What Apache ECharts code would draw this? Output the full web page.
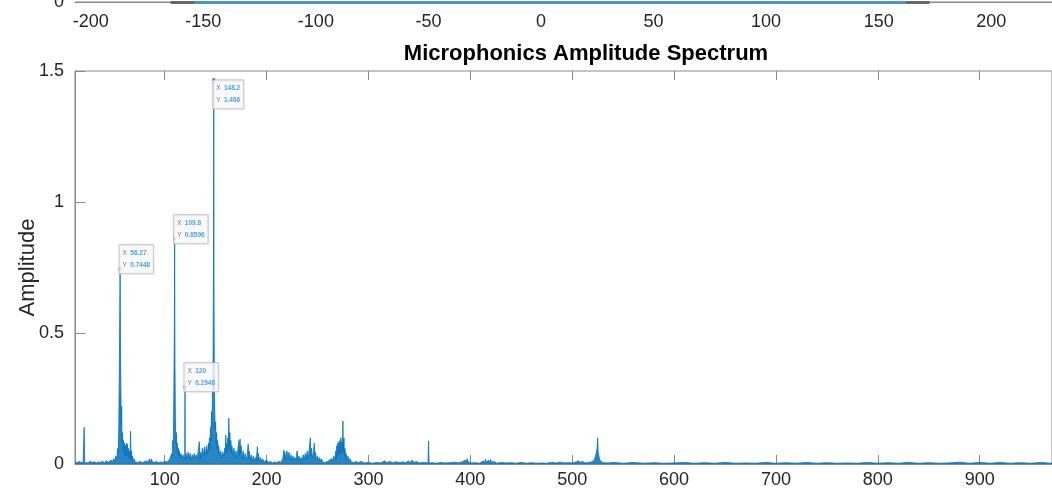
<!DOCTYPE html>
<html>
<head>
<meta charset="utf-8">
<script src="https://cdn.jsdelivr.net/npm/echarts@6/dist/echarts.min.js"></script>
<style>
  html, body { margin: 0; padding: 0; background: #fff; }
  #chart { width: 1052px; height: 496px; }
</style>
</head>
<body>
<div id="chart"></div>
<script>
// spectrum (frequency, amplitude)
const freqs = [
  12, 14, 16, 18, 20, 21, 21.5, 23, 25, 27, 29, 31, 33, 35, 37, 39, 41, 43, 45, 47, 49, 50, 51, 52, 53, 54, 54.5,
  55, 55.5, 56, 56.27, 56.6, 57, 57.4, 57.8, 58.2, 58.6, 59, 59.5, 60, 60.5, 61, 61.5, 62, 62.5, 63, 63.5, 64, 64.5,
  65, 65.5, 66, 66.5, 67, 67.5, 68, 68.5, 69, 70, 71, 72, 74, 76, 78, 80, 82, 84, 85, 86, 87, 88, 90, 92, 94, 96, 98,
  100, 102, 104, 105, 106, 107, 107.5, 108, 108.5, 109, 109.5, 109.8, 110.1, 110.5, 111, 111.5, 112, 112.5, 113,
  113.5, 114, 114.5, 115, 116, 117, 118, 119, 119.8, 120, 120.2, 121, 122, 123, 124, 125, 126, 127, 128, 129, 130,
  131, 132, 133, 134, 134.5, 135, 136, 137, 138, 139, 140, 141, 142, 143, 143.5, 144, 144.5, 145, 145.5, 146, 146.5,
  147, 147.5, 148, 148.2, 148.5, 148.8, 149.2, 149.6, 150, 150.5, 151, 151.5, 152, 152.5, 153, 154, 155, 156, 157,
  158, 159, 159.5, 160, 160.5, 161, 161.5, 162, 162.5, 163, 163.5, 164, 164.5, 165, 165.5, 166, 167, 168, 169, 170,
  171, 172, 173, 173.5, 174, 174.5, 175, 176, 177, 178, 179, 180, 181, 182, 182.5, 183, 184, 185, 186, 187, 188, 189,
  190, 191, 191.5, 192, 193, 194, 195, 196, 198, 200, 202, 204, 206, 208, 210, 212, 214, 216, 217, 217.5, 218, 219,
  220, 221, 222, 223, 224, 225, 226, 227, 228, 229, 230, 231, 232, 233, 234, 235, 236, 237, 238, 239, 240, 241, 242,
  243, 243.5, 244, 245, 246, 247, 247.5, 248, 249, 250, 251, 252, 253, 254, 255, 256, 257, 258, 260, 262, 263, 264,
  265, 266, 267, 268, 268.5, 269, 269.5, 270, 270.5, 271, 271.5, 272, 272.5, 273, 273.5, 274, 274.5, 275, 275.3,
  276, 276.5, 277, 277.5, 278, 279, 280, 281, 282, 283, 284, 286, 288, 290, 293, 296, 300, 304, 308, 312, 316, 318,
  321, 324, 327, 330, 334, 337, 339, 341, 343, 345, 347, 350, 354, 358.5, 359, 359.5, 363, 367, 371, 375, 380, 385,
  388, 392, 395, 396, 397, 398, 399, 401, 405, 409, 413, 414, 415, 416, 418, 419, 420, 421, 423, 426, 430, 435, 440,
  445, 450, 455, 460, 465, 470, 475, 480, 484, 488, 492, 496, 500, 504, 506, 508, 510, 513, 516, 519, 521, 522, 523,
  524, 524.5, 525, 525.5, 526, 527, 528, 530, 535, 540, 550, 560, 570, 580, 590, 600, 610, 620, 630, 640, 650, 660,
  670, 680, 690, 700, 710, 720, 730, 740, 750, 760, 770, 780, 790, 800, 810, 820, 830, 840, 850, 860, 870, 880, 890,
  900, 910, 920, 930, 940, 950, 960, 970, 980, 990, 1000
];
const amps = [
  0.008, 0.004, 0.01, 0.006, 0.005, 0.14, 0.004, 0.008, 0.005, 0.01, 0.006, 0.009, 0.004, 0.008, 0.006, 0.01, 0.005, 0.012, 0.006, 0.015, 0.01, 0.02, 0.012, 0.03, 0.02, 0.06, 0.04,
  0.15, 0.35, 0.6, 0.7448, 0.5, 0.3, 0.15, 0.22, 0.08, 0.12, 0.05, 0.09, 0.04, 0.08, 0.03, 0.07, 0.035, 0.08, 0.03, 0.075, 0.03, 0.06,
  0.025, 0.05, 0.02, 0.125, 0.02, 0.05, 0.015, 0.03, 0.01, 0.02, 0.008, 0.012, 0.006, 0.01, 0.005, 0.008, 0.012, 0.006, 0.02, 0.005, 0.02, 0.008, 0.006, 0.01, 0.005, 0.008, 0.006,
  0.01, 0.008, 0.012, 0.02, 0.015, 0.04, 0.03, 0.09, 0.06, 0.25, 0.5, 0.8596, 0.4, 0.18, 0.08, 0.12, 0.05, 0.08, 0.035,
  0.06, 0.03, 0.05, 0.02, 0.04, 0.02, 0.035, 0.015, 0.03, 0.2946, 0.02, 0.04, 0.018, 0.045, 0.02, 0.04, 0.015, 0.035, 0.02, 0.04, 0.02,
  0.035, 0.02, 0.05, 0.085, 0.02, 0.045, 0.025, 0.06, 0.03, 0.065, 0.035, 0.07, 0.04, 0.08, 0.05, 0.1, 0.06, 0.14, 0.09, 0.2, 0.14,
  0.3, 0.32, 0.9, 1.466, 0.6, 0.3, 0.2, 0.13, 0.16, 0.08, 0.12, 0.06, 0.09, 0.04, 0.07, 0.03, 0.05, 0.025, 0.045,
  0.03, 0.06, 0.04, 0.11, 0.05, 0.08, 0.04, 0.1, 0.06, 0.175, 0.07, 0.12, 0.05, 0.09, 0.04, 0.07, 0.03, 0.06, 0.025, 0.05,
  0.02, 0.06, 0.09, 0.03, 0.095, 0.04, 0.07, 0.02, 0.05, 0.02, 0.04, 0.015, 0.03, 0.076, 0.02, 0.05, 0.015, 0.035, 0.012, 0.03, 0.01, 0.025,
  0.012, 0.066, 0.015, 0.04, 0.01, 0.025, 0.008, 0.02, 0.008, 0.015, 0.006, 0.01, 0.004, 0.008, 0.005, 0.01, 0.006, 0.02, 0.053, 0.02, 0.045, 0.015,
  0.05, 0.02, 0.045, 0.015, 0.035, 0.012, 0.03, 0.01, 0.025, 0.015, 0.05, 0.015, 0.03, 0.01, 0.025, 0.012, 0.035, 0.015, 0.04, 0.02, 0.05, 0.02, 0.06,
  0.1, 0.03, 0.06, 0.02, 0.05, 0.08, 0.02, 0.045, 0.015, 0.03, 0.01, 0.025, 0.01, 0.02, 0.008, 0.015, 0.006, 0.012, 0.01, 0.015, 0.01, 0.02,
  0.012, 0.03, 0.015, 0.05, 0.02, 0.07, 0.03, 0.08, 0.035, 0.085, 0.04, 0.09, 0.04, 0.1, 0.045, 0.085, 0.04, 0.164, 0.05,
  0.1, 0.03, 0.06, 0.02, 0.04, 0.015, 0.03, 0.01, 0.02, 0.008, 0.015, 0.006, 0.01, 0.005, 0.01, 0.004, 0.006, 0.003, 0.006, 0.004, 0.012, 0.005,
  0.01, 0.004, 0.009, 0.005, 0.008, 0.004, 0.012, 0.006, 0.015, 0.005, 0.01, 0.004, 0.006, 0.004, 0.088, 0.004, 0.005, 0.003, 0.006, 0.004, 0.005, 0.007,
  0.004, 0.008, 0.015, 0.006, 0.02, 0.008, 0.012, 0.004, 0.005, 0.003, 0.012, 0.004, 0.018, 0.006, 0.015, 0.005, 0.017, 0.006, 0.01, 0.003, 0.006, 0.004, 0.005,
  0.003, 0.006, 0.003, 0.005, 0.003, 0.004, 0.003, 0.006, 0.004, 0.007, 0.004, 0.005, 0.004, 0.008, 0.012, 0.006, 0.01, 0.004, 0.006, 0.008, 0.012, 0.02, 0.03,
  0.05, 0.06, 0.1, 0.045, 0.035, 0.015, 0.01, 0.005, 0.004, 0.006, 0.003, 0.006, 0.003, 0.005, 0.003, 0.004, 0.006, 0.003, 0.005, 0.003, 0.006, 0.003,
  0.004, 0.003, 0.006, 0.003, 0.005, 0.003, 0.006, 0.003, 0.005, 0.003, 0.004, 0.003, 0.006, 0.003, 0.005, 0.003, 0.006, 0.003, 0.005, 0.003, 0.004, 0.007, 0.003,
  0.006, 0.003, 0.006, 0.003, 0.005, 0.003, 0.006, 0.003, 0.004, 0.003, 0.004
];

// data tips on the main peaks
const tipX = [56.27, 109.8, 148.2, 120];
const tipY = [0.7448, 0.8596, 1.466, 0.2946];
const tipLabels = [['56.27', '0.7448'], ['109.8', '0.8596'], ['148.2', '1.466'], ['120', '0.2946']];

// upper plot (only its bottom edge is in view)
const topTicks = [-200, -150, -100, -50, 0, 50, 100, 150, 200];
const topGrayA = [[-164.5, 0], [-153.8, 0]];
const topBlue = [[-153.8, 0], [161.9, 0]];
const topGrayB = [[161.9, 0], [172.6, 0]];

const mainTicks = [100, 200, 300, 400, 500, 600, 700, 800, 900];

const FONT = 'Liberation Sans, Arial, Helvetica, sans-serif';
const AXIS = '#8a8a8a';
const TXT = '#262626';

const spectrum = freqs.map((f, i) => [f, amps[i]]);
const tips = tipX.map((x, i) => ({
  value: [x, tipY[i]],
  label: {
    position: i === 2 ? [1, 2] : [1, -22]
  }
}));

var myChart = echarts.init(document.getElementById('chart'));
var option = {
  animation: false,
  title: {
    text: 'Microphonics Amplitude Spectrum',
    left: 581,
    top: 38,
    textAlign: 'center',
    textStyle: { fontFamily: FONT, fontSize: 22, fontWeight: 'bold', color: '#000' }
  },
  grid: [
    { left: 75, top: 71, right: 0, height: 393, show: true, borderColor: AXIS, borderWidth: 1 },
    { left: 75, top: 0, right: 0, height: 2, show: true, borderColor: AXIS, borderWidth: 1 }
  ],
  xAxis: [
    {
      type: 'value', gridIndex: 0, min: 12, max: 971,
      axisLine: { show: true, lineStyle: { color: AXIS } },
      axisTick: { show: true, inside: true, length: 9, customValues: mainTicks, lineStyle: { color: AXIS } },
      axisLabel: { customValues: mainTicks, margin: 7, fontFamily: FONT, fontSize: 18, color: TXT },
      splitLine: { show: false }
    },
    {
      type: 'value', gridIndex: 0, min: 12, max: 971, position: 'top',
      axisLine: { show: false },
      axisTick: { show: true, inside: true, length: 9, customValues: mainTicks, lineStyle: { color: AXIS } },
      axisLabel: { show: false },
      splitLine: { show: false }
    },
    {
      type: 'value', gridIndex: 1, min: -207, max: 227,
      axisLine: { show: true, lineStyle: { color: AXIS } },
      axisTick: { show: false },
      axisLabel: { customValues: topTicks, margin: 11, fontFamily: FONT, fontSize: 18, color: TXT },
      splitLine: { show: false }
    }
  ],
  yAxis: [
    {
      type: 'value', gridIndex: 0, min: 0, max: 1.5, interval: 0.5,
      name: 'Amplitude', nameLocation: 'middle', nameGap: 36, nameMoveOverlap: false,
      nameTextStyle: { fontFamily: FONT, fontSize: 22, color: TXT },
      axisLine: { show: true, lineStyle: { color: AXIS } },
      axisTick: { show: true, inside: true, length: 10, lineStyle: { color: AXIS } },
      axisLabel: { margin: 11, fontFamily: FONT, fontSize: 18, color: TXT },
      splitLine: { show: false }
    },
    {
      type: 'value', gridIndex: 1, min: 0, max: 1,
      axisLine: { show: true, lineStyle: { color: AXIS } },
      axisTick: { show: false },
      axisLabel: { customValues: [0], margin: 11, fontFamily: FONT, fontSize: 18, color: TXT },
      splitLine: { show: false }
    }
  ],
  series: [
    {
      type: 'line', xAxisIndex: 0, yAxisIndex: 0,
      data: spectrum, showSymbol: false, symbol: 'none', sampling: 'none',
      lineStyle: { color: '#0072BD', width: 0.8 },
      areaStyle: { color: '#0072BD', opacity: 0.85 }
    },
    {
      type: 'scatter', xAxisIndex: 0, yAxisIndex: 0,
      data: tips, symbol: 'rect', symbolSize: 3,
      itemStyle: { color: '#333' },
      z: 5,
      label: {
        show: true,
        formatter: p => {
          const t = tipLabels[p.dataIndex];
          return '{k|X} {v|' + t[0] + '}\n{k|Y} {v|' + t[1] + '}';
        },
        backgroundColor: '#fff',
        borderColor: '#c8c8c8',
        borderWidth: 1,
        padding: [2, 3, 2, 3],
        shadowColor: 'rgba(0,0,0,0.15)',
        shadowBlur: 2,
        rich: {
          k: { fontFamily: FONT, fontSize: 6.5, lineHeight: 8.5, color: '#555' },
          v: { fontFamily: FONT, fontSize: 6.5, lineHeight: 8.5, color: '#1a8cf5', fontWeight: 'bold' }
        }
      }
    },
    {
      type: 'line', xAxisIndex: 2, yAxisIndex: 1, data: topGrayA, symbol: 'none',
      lineStyle: { color: '#666', width: 3 }
    },
    {
      type: 'line', xAxisIndex: 2, yAxisIndex: 1, data: topBlue, symbol: 'none',
      lineStyle: { color: '#4f94c4', width: 3 }
    },
    {
      type: 'line', xAxisIndex: 2, yAxisIndex: 1, data: topGrayB, symbol: 'none',
      lineStyle: { color: '#666', width: 3 }
    }
  ]
};
option && myChart.setOption(option);
</script>
</body>
</html>
